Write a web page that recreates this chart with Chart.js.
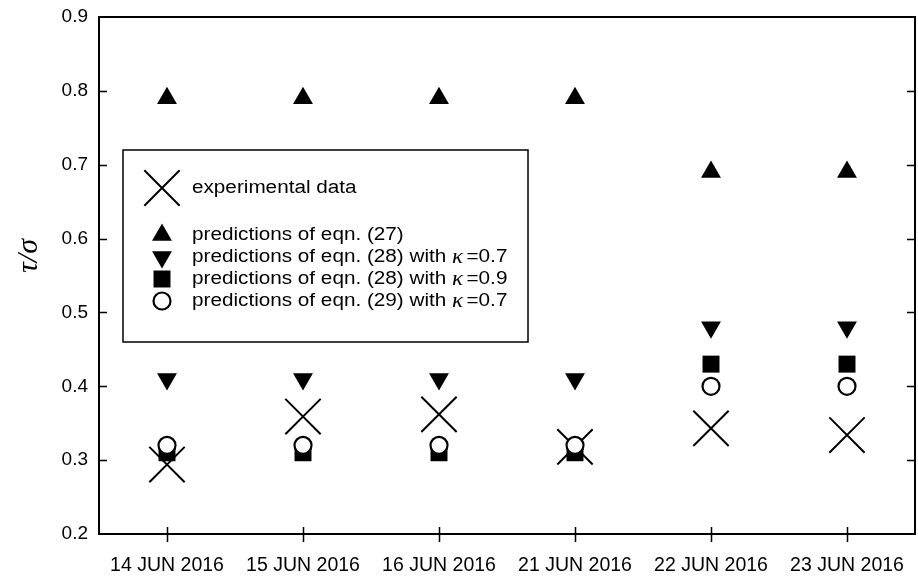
<!DOCTYPE html>
<html>
<head>
<meta charset="utf-8">
<script src="https://cdn.jsdelivr.net/npm/chart.js@4/dist/chart.umd.min.js"></script>
<style>
  html, body { margin: 0; padding: 0; background: #fff; }
  #wrap { width: 918px; height: 577px; position: relative; }
  canvas { display: block; }
</style>
</head>
<body>
<div id="wrap"><canvas id="c" width="918" height="577"></canvas></div>
<script>
// Measurement dates (category axis)
const dates = ['14 JUN 2016', '15 JUN 2016', '16 JUN 2016', '21 JUN 2016', '22 JUN 2016', '23 JUN 2016'];

// tau / sigma values per date
const experimental = [0.294, 0.359, 0.362, 0.318, 0.343, 0.334];
const eqn27        = [0.79, 0.79, 0.79, 0.79, 0.69, 0.69];
const eqn28k07     = [0.41, 0.41, 0.41, 0.41, 0.48, 0.48];
const eqn28k09     = [0.31, 0.31, 0.31, 0.31, 0.43, 0.43];
const eqn29k07     = [0.32, 0.32, 0.32, 0.32, 0.40, 0.40];

// y axis range and tick step
const yMin = 0.2, yMax = 0.9, yStep = 0.1;

const INK = '#000';
const SANS = 'Arial, "Liberation Sans", sans-serif';
const SERIF = '"Liberation Serif", "Times New Roman", serif';

const markers = {
  exp:   { pointStyle: 'crossRot', radius: 25, rotation: 0,   borderWidth: 2,   fill: INK },
  up:    { pointStyle: 'triangle', radius: 11.5, rotation: 0, borderWidth: 0,   fill: INK },
  down:  { pointStyle: 'triangle', radius: 11.5, rotation: 180, borderWidth: 0, fill: INK },
  sq:    { pointStyle: 'rect',     radius: 12, rotation: 0,   borderWidth: 0,   fill: INK },
  circ:  { pointStyle: 'circle',   radius: 8.5, rotation: 0,  borderWidth: 2.2, fill: '#fff' }
};

function ds(label, data, m, order) {
  return {
    label, data, order,
    showLine: false,
    pointStyle: m.pointStyle,
    pointRadius: m.radius,
    pointHoverRadius: m.radius,
    pointRotation: m.rotation,
    pointBorderWidth: m.borderWidth,
    pointBackgroundColor: m.fill,
    pointBorderColor: INK,
    backgroundColor: m.fill,
    borderColor: INK
  };
}

// Legend entries drawn inside the plot box
const legendRows = [
  { m: markers.exp,  y: 188, parts: ['experimental data'] },
  { m: markers.up,   y: 235, parts: ['predictions of eqn. (27)'] },
  { m: markers.down, y: 257, parts: ['predictions of eqn. (28) with ', 'κ', '=0.7'] },
  { m: markers.sq,   y: 279, parts: ['predictions of eqn. (28) with ', 'κ', '=0.9'] },
  { m: markers.circ, y: 301, parts: ['predictions of eqn. (29) with ', 'κ', '=0.7'] }
];

function drawMarker(ctx, m, x, y) {
  ctx.save();
  ctx.fillStyle = m.fill;
  ctx.strokeStyle = INK;
  ctx.lineWidth = m.borderWidth || 1;
  Chart.helpers.drawPoint(ctx, {
    pointStyle: m.pointStyle, radius: m.radius, rotation: m.rotation,
    borderWidth: m.borderWidth
  }, x, y);
  ctx.restore();
}

const frame = {
  id: 'frame',
  beforeDatasetsDraw(chart) {
    const { ctx, chartArea: a, scales } = chart;
    ctx.save();
    ctx.strokeStyle = INK;
    ctx.lineWidth = 2;
    ctx.strokeRect(a.left, a.top, a.right - a.left, a.bottom - a.top);
    ctx.lineWidth = 1.5;
    ctx.beginPath();
    scales.y.ticks.forEach(t => {
      const py = Math.round(scales.y.getPixelForValue(t.value)) + 0.5;
      if (py <= a.top + 2 || py >= a.bottom - 2) return;
      ctx.moveTo(a.left, py); ctx.lineTo(a.left + 8, py);
      ctx.moveTo(a.right, py); ctx.lineTo(a.right - 8, py);
    });
    dates.forEach((d, i) => {
      const px = Math.round(scales.x.getPixelForValue(i)) + 0.5;
      ctx.moveTo(px, a.bottom - 7); ctx.lineTo(px, a.bottom + 8);
    });
    ctx.stroke();
    ctx.restore();
  },
  afterDraw(chart) {
    const { ctx } = chart;
    ctx.save();
    // y axis title
    ctx.translate(29, 256);
    ctx.rotate(-Math.PI / 2);
    ctx.fillStyle = INK;
    ctx.textAlign = 'center';
    ctx.textBaseline = 'middle';
    ctx.font = 'italic 30px ' + SERIF;
    ctx.fillText('τ/σ', 0, 0);
    ctx.restore();

    // legend box
    ctx.save();
    ctx.strokeStyle = INK;
    ctx.lineWidth = 1.5;
    ctx.fillStyle = '#fff';
    ctx.fillRect(123, 150, 405, 192);
    ctx.strokeRect(123, 150, 405, 192);
    legendRows.forEach(r => {
      drawMarker(ctx, r.m, 162, r.y);
      ctx.save();
      ctx.translate(192, r.y);
      ctx.scale(1.15, 1);
      let x = 0;
      ctx.fillStyle = INK;
      ctx.textBaseline = 'middle';
      ctx.textAlign = 'left';
      r.parts.forEach(p => {
        if (p === 'κ') {
          ctx.font = 'italic 20px ' + SERIF;
          ctx.fillText(p, x, 1);
          x += ctx.measureText(p).width + 3;
        } else {
          ctx.font = '18px ' + SANS;
          ctx.fillText(p, x, 0);
          x += ctx.measureText(p).width;
        }
      });
      ctx.restore();
    });
    ctx.restore();
  }
};

new Chart(document.getElementById('c'), {
  type: 'line',
  data: {
    labels: dates,
    datasets: [
      ds('experimental data', experimental, markers.exp, 5),
      ds('predictions of eqn. (27)', eqn27, markers.up, 4),
      ds('predictions of eqn. (28) with κ=0.7', eqn28k07, markers.down, 3),
      ds('predictions of eqn. (28) with κ=0.9', eqn28k09, markers.sq, 2),
      ds('predictions of eqn. (29) with κ=0.7', eqn29k07, markers.circ, 1)
    ]
  },
  options: {
    responsive: false,
    animation: false,
    devicePixelRatio: 1,
    layout: { autoPadding: false, padding: { top: 17, right: 3, left: 0, bottom: 0 } },
    plugins: { legend: { display: false }, tooltip: { enabled: false } },
    scales: {
      x: {
        type: 'category',
        offset: true,
        grid: { display: false, drawTicks: false },
        border: { display: false },
        ticks: { color: INK, font: { family: SANS, size: 19.5 }, padding: 20, maxRotation: 0, autoSkip: false },
        afterFit(s) { s.height = 43; s.paddingLeft = 0; s.paddingRight = 0; }
      },
      y: {
        min: yMin, max: yMax,
        grid: { display: false, drawTicks: false },
        border: { display: false },
        ticks: {
          stepSize: yStep, color: INK, padding: 11,
          font: { family: SANS, size: 19 },
          callback: v => Number(v).toFixed(1)
        },
        afterFit(s) { s.width = 99; s.paddingTop = 0; s.paddingBottom = 0; }
      }
    }
  },
  plugins: [frame]
});
</script>
</body>
</html>
